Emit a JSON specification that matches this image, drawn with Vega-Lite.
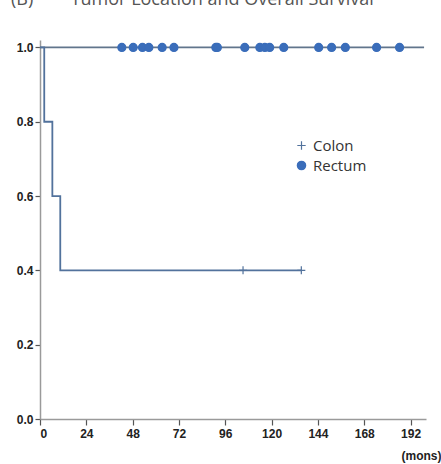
{
  "$schema": "https://vega.github.io/schema/vega-lite/v6.json",
  "width": 386,
  "height": 379,
  "autosize": "none",
  "padding": {"left": 40, "top": 40, "right": 15, "bottom": 45},
  "background": "white",
  "title": {
    "text": "(B)\u00a0\u00a0\u00a0\u00a0\u00a0\u00a0\u00a0\u00a0Tumor Location and Overall Survival",
    "anchor": "start",
    "frame": "group",
    "dx": -29,
    "offset": 17,
    "baseline": "alphabetic",
    "font": "Open Sans",
    "fontSize": 18,
    "fontWeight": "normal",
    "color": "#555555"
  },
  "config": {
    "view": {"stroke": null},
    "axis": {
      "labelFont": "Liberation Sans",
      "labelFontSize": 12,
      "labelFontWeight": "bold",
      "labelColor": "#222222",
      "domainColor": "#9a9a9a",
      "domainWidth": 1.5,
      "tickColor": "#555555",
      "tickSize": 6,
      "tickWidth": 1.2,
      "grid": false
    },
    "legend": {
      "labelFont": "Open Sans",
      "labelFontSize": 15,
      "labelColor": "#333333",
      "symbolSize": 70,
      "symbolStrokeWidth": 1.2,
      "rowPadding": 4
    }
  },
  "datasets": {
    "curves": [
      {"group": "Colon", "t": 0, "s": 1.0},
      {"group": "Colon", "t": 2.2, "s": 0.8},
      {"group": "Colon", "t": 6.4, "s": 0.6},
      {"group": "Colon", "t": 10.5, "s": 0.4},
      {"group": "Colon", "t": 135.4, "s": 0.4},
      {"group": "Rectum", "t": 0, "s": 1.0},
      {"group": "Rectum", "t": 199, "s": 1.0}
    ],
    "censors": [
      {"group": "Colon", "t": 105.2, "s": 0.4},
      {"group": "Colon", "t": 135.4, "s": 0.4},
      {"group": "Rectum", "t": 42.4, "s": 1.0},
      {"group": "Rectum", "t": 48.3, "s": 1.0},
      {"group": "Rectum", "t": 53.1, "s": 1.0},
      {"group": "Rectum", "t": 56.4, "s": 1.0},
      {"group": "Rectum", "t": 63.3, "s": 1.0},
      {"group": "Rectum", "t": 69.4, "s": 1.0},
      {"group": "Rectum", "t": 91.1, "s": 1.0},
      {"group": "Rectum", "t": 91.9, "s": 1.0},
      {"group": "Rectum", "t": 106.1, "s": 1.0},
      {"group": "Rectum", "t": 113.9, "s": 1.0},
      {"group": "Rectum", "t": 116.5, "s": 1.0},
      {"group": "Rectum", "t": 119.0, "s": 1.0},
      {"group": "Rectum", "t": 126.3, "s": 1.0},
      {"group": "Rectum", "t": 144.4, "s": 1.0},
      {"group": "Rectum", "t": 151.1, "s": 1.0},
      {"group": "Rectum", "t": 158.2, "s": 1.0},
      {"group": "Rectum", "t": 174.4, "s": 1.0},
      {"group": "Rectum", "t": 186.3, "s": 1.0}
    ]
  },
  "layer": [
    {
      "data": {"name": "curves"},
      "transform": [{"filter": "datum.group === 'Rectum'"}],
      "mark": {"type": "line", "interpolate": "step-after", "color": "#61758c", "strokeWidth": 1.8},
      "encoding": {
        "x": {"field": "t", "type": "quantitative"},
        "y": {"field": "s", "type": "quantitative"}
      }
    },
    {
      "data": {"name": "curves"},
      "transform": [{"filter": "datum.group === 'Colon'"}],
      "mark": {"type": "line", "interpolate": "step-after", "color": "#52729c", "strokeWidth": 1.8},
      "encoding": {
        "x": {"field": "t", "type": "quantitative"},
        "y": {"field": "s", "type": "quantitative"}
      }
    },
    {
      "data": {"name": "censors"},
      "mark": {"type": "point", "filled": true, "opacity": 1, "size": 64, "strokeWidth": 1.2},
      "encoding": {
        "x": {
          "field": "t", "type": "quantitative",
          "scale": {"domain": [0, 200], "nice": false, "zero": false},
          "axis": {
            "values": [0, 24, 48, 72, 96, 120, 144, 168, 192],
            "title": "(mons)",
            "titleFont": "Liberation Sans",
            "titleFontSize": 12,
            "titleFontWeight": "bold",
            "titleColor": "#222222",
            "titleAlign": "right",
            "titleAnchor": null,
            "titleX": 401,
            "titleY": 40,
            "titleBaseline": "alphabetic",
            "labelPadding": 3
          }
        },
        "y": {
          "field": "s", "type": "quantitative",
          "scale": {"domain": [0, 1.02], "nice": false},
          "axis": {
            "values": [0, 0.2, 0.4, 0.6, 0.8, 1.0],
            "format": ".1f",
            "title": null,
            "tickSize": 5,
            "labelPadding": 2
          }
        },
        "shape": {
          "field": "group", "type": "nominal",
          "scale": {"domain": ["Colon", "Rectum"], "range": ["M-1,0L1,0M0,-1L0,1", "circle"]},
          "legend": {"title": null, "orient": "none", "legendX": 254, "legendY": 98}
        },
        "fill": {
          "field": "group", "type": "nominal",
          "scale": {"domain": ["Colon", "Rectum"], "range": ["transparent", "#3a6dba"]},
          "legend": {"title": null, "orient": "none", "legendX": 254, "legendY": 98}
        },
        "stroke": {
          "field": "group", "type": "nominal",
          "scale": {"domain": ["Colon", "Rectum"], "range": ["#52729c", "#3a6dba"]},
          "legend": {"title": null, "orient": "none", "legendX": 254, "legendY": 98}
        }
      }
    }
  ]
}
